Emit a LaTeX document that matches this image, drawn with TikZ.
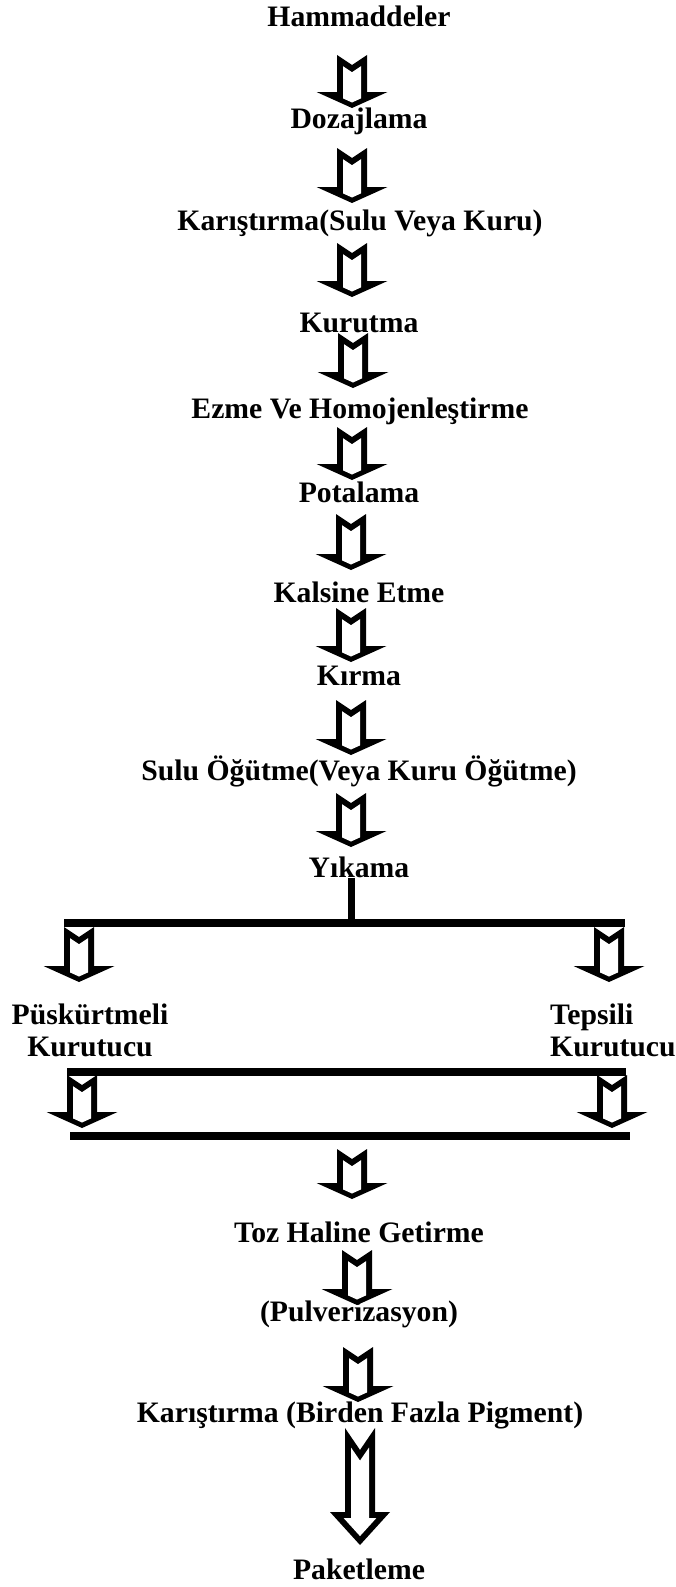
\documentclass[tikz,border=0pt]{standalone}
\usepackage{fontspec}
\setmainfont{Liberation Serif}
\usetikzlibrary{calc}

% Hollow block arrow with a notched tail: a black outline filled with a
% white interior, from a tail coordinate (#1) down to a tip coordinate (#2).
\newcommand{\stdarrow}[2]{%
  \fill[arrowink] let \p1=(#1), \p2=(#2) in
    (\x1-15pt,\y1) -- (\x1,\y1-10pt) -- (\x1+15pt,\y1)
    -- (\x1+15pt,\y2+16pt) -- (\x1+35.5pt,\y2+16pt) -- (\x1,\y2)
    -- (\x1-35.5pt,\y2+16pt) -- (\x1-15pt,\y2+16pt) -- cycle;
  \fill[arrowhole] let \p1=(#1), \p2=(#2) in
    (\x1-9pt,\y1-11.2pt) -- (\x1,\y1-17.2pt) -- (\x1+9pt,\y1-11.2pt)
    -- (\x1+9pt,\y2+9.6pt) -- (\x1,\y2+5.5pt) -- (\x1-9pt,\y2+9.6pt) -- cycle;}
% the same arrow with a deeper notch and a longer, narrower head
\newcommand{\longarrow}[2]{%
  \fill[arrowink] let \p1=(#1), \p2=(#2) in
    (\x1-15pt,\y1) -- (\x1,\y1-22pt) -- (\x1+15pt,\y1)
    -- (\x1+15pt,\y2+33pt) -- (\x1+30pt,\y2+33pt) -- (\x1,\y2)
    -- (\x1-30pt,\y2+33pt) -- (\x1-15pt,\y2+33pt) -- cycle;
  \fill[arrowhole] let \p1=(#1), \p2=(#2) in
    (\x1-9pt,\y1-19.5pt) -- (\x1,\y1-32.6pt) -- (\x1+9pt,\y1-19.5pt)
    -- (\x1+9pt,\y2+27pt) -- (\x1+16.4pt,\y2+27pt) -- (\x1,\y2+8.9pt)
    -- (\x1-16.4pt,\y2+27pt) -- (\x1-9pt,\y2+27pt) -- cycle;}

\begin{document}
\begin{tikzpicture}[x=1pt,y=-1pt,
  lbl/.style={font=\fontsize{29.7}{32}\selectfont\bfseries, inner sep=0pt, anchor=base},
  lbl2/.style={font=\fontsize{29.7}{32}\selectfont\bfseries, inner sep=0pt},
  arrowink/.style={black},
  arrowhole/.style={white},
  barline/.style={line width=8pt},
  stemline/.style={line width=7pt},
]
\useasboundingbox (0,0) rectangle (675,1587);

% arrow ends along the main line
\coordinate (a1s) at (352,55);   \coordinate (a1e) at (352,108);
\coordinate (a2s) at (352,148);  \coordinate (a2e) at (352,203);
\coordinate (a3s) at (352,243);  \coordinate (a3e) at (352,297);
\coordinate (a4s) at (353,333);  \coordinate (a4e) at (353,388);
\coordinate (a5s) at (352,427);  \coordinate (a5e) at (352,480);
\coordinate (a6s) at (351,514);  \coordinate (a6e) at (351,570);
\coordinate (a7s) at (351,608);  \coordinate (a7e) at (351,662);
\coordinate (a8s) at (351,700);  \coordinate (a8e) at (351,755);
\coordinate (a9s) at (351,793);  \coordinate (a9e) at (351,847);

\stdarrow{a1s}{a1e}
\stdarrow{a2s}{a2e}
\stdarrow{a3s}{a3e}
\stdarrow{a4s}{a4e}
\stdarrow{a5s}{a5e}
\stdarrow{a6s}{a6e}
\stdarrow{a7s}{a7e}
\stdarrow{a8s}{a8e}
\stdarrow{a9s}{a9e}

% process steps
\node[lbl] (ham)  at (359,27)   {Hammaddeler};
\node[lbl] (doz)  at (359,128)  {Dozajlama};
\node[lbl] (kar1) at (360,230)  {Karıştırma(Sulu Veya Kuru)};
\node[lbl] (kur)  at (359,332)  {Kurutma};
\node[lbl] (ezm)  at (360,418)  {Ezme Ve Homojenleştirme};
\node[lbl] (pot)  at (359,502)  {Potalama};
\node[lbl] (kal)  at (359,602)  {Kalsine Etme};
\node[lbl] (kir)  at (359,685)  {Kırma};
\node[lbl] (sul)  at (359,780)  {Sulu Öğütme(Veya Kuru Öğütme)};
\node[lbl] (yik)  at (359,877)  {Yıkama};
\node[lbl2, align=center, anchor=north]      (pk) at (90,1003.5)  {Püskürtmeli\\Kurutucu};
\node[lbl2, align=left,   anchor=north west] (tk) at (550,1003.5) {Tepsili\\Kurutucu};

% branching to the two dryers
\coordinate (b1l) at (64,923);  \coordinate (b1r) at (625,923);
\coordinate (b1m) at (351,923);
\draw[stemline] (yik.south -| b1m) -- (b1m);
\draw[barline] (b1l) -- (b1r);

\coordinate (l1s) at (79,927);   \coordinate (l1e) at (79,982);
\coordinate (r1s) at (609,927);  \coordinate (r1e) at (609,982);
\stdarrow{l1s}{l1e}
\stdarrow{r1s}{r1e}

% merging after the dryers
\coordinate (b2l) at (67,1071.5); \coordinate (b2r) at (626,1071.5);
\draw[barline] (b2l) -- (b2r);
\coordinate (l2s) at (82,1075);   \coordinate (l2e) at (82,1128);
\coordinate (r2s) at (612,1075);  \coordinate (r2e) at (612,1128);
\stdarrow{l2s}{l2e}
\stdarrow{r2s}{r2e}

\coordinate (b3l) at (70,1136);  \coordinate (b3r) at (630,1136);
\draw[barline] (b3l) -- (b3r);

% final steps
\coordinate (c1s) at (352,1149); \coordinate (c1e) at (352,1199);
\coordinate (c2s) at (357,1250); \coordinate (c2e) at (357,1305);
\coordinate (c3s) at (358,1347); \coordinate (c3e) at (358,1402);
\coordinate (c4s) at (360,1428); \coordinate (c4e) at (360,1545);
\stdarrow{c1s}{c1e}
\stdarrow{c2s}{c2e}
\stdarrow{c3s}{c3e}
\longarrow{c4s}{c4e}

\node[lbl] (toz)  at (359,1242) {Toz Haline Getirme};
\node[lbl] (pul)  at (359,1321) {(Pulverizasyon)};
\node[lbl] (kar2) at (360,1422) {Karıştırma (Birden Fazla Pigment)};
\node[lbl] (pak)  at (359,1579) {Paketleme};
\end{tikzpicture}
\end{document}
